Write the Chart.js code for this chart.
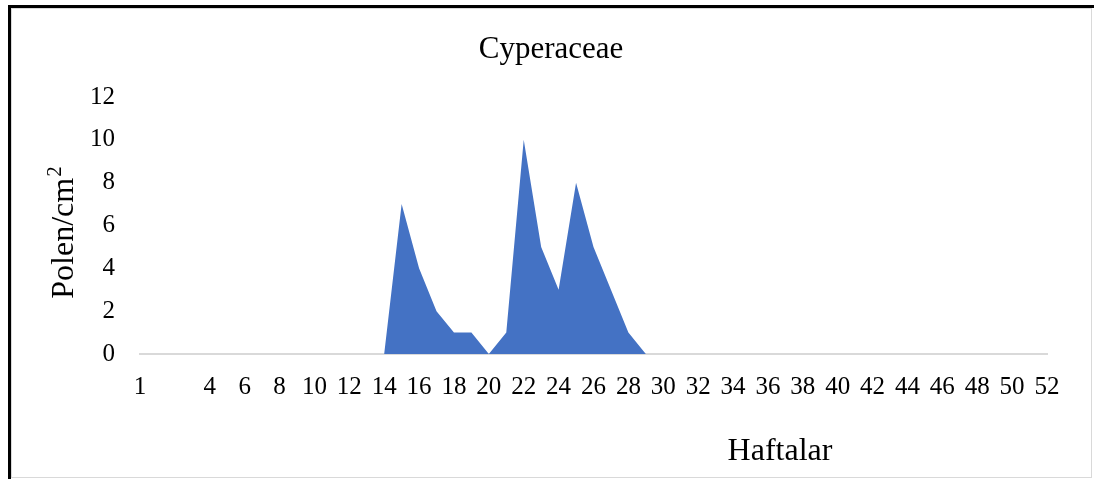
<!DOCTYPE html>
<html>
<head>
<meta charset="utf-8">
<script src="https://cdn.jsdelivr.net/npm/chart.js@4"></script>
<style>
    body { margin: 0; background: #fff; }
    #wrap { position: relative; width: 1094px; height: 479px; overflow: hidden; }
    #edge { position: absolute; left: 8px; top: 5px; right: 0; bottom: 0; border-left: 3px solid #000; border-top: 3px solid #000; }
    #frame { position: absolute; left: 11px; top: 8px; width: 1079px; height: 468px; border: 1px solid #d9d9d9; }
    #chart { position: absolute; left: 0; top: 0; }
</style>
</head>
<body>
<div id="wrap">
    <div id="edge"></div>
    <div id="frame"></div>
    <canvas id="chart" width="1094" height="479"></canvas>
</div>
<script>
const chartTitle = 'Cyperaceae';
const xTitle = 'Haftalar';
const yTitle = 'Polen/cm';
const yTitleSup = '2';

// week labels as printed under the axis (odd ones hidden)
const weekLabels = ['1', '', '', '', '4', '', '6', '', '8', '', '10', '', '12', '', '14', '', '16', '', '18', '', '20',
    '', '22', '', '24', '', '26', '', '28', '', '30', '', '32', '', '34', '', '36', '', '38', '', '40',
    '', '42', '', '44', '', '46', '', '48', '', '50', '', '52'];

const pollenValues = [0, 0, 0, 0, 0, 0, 0, 0, 0, 0, 0, 0, 0, 0, 0, 7, 4, 2, 1, 1, 0,
    1, 10, 5, 3, 8, 5, 3, 1, 0, 0, 0, 0, 0, 0, 0, 0, 0, 0, 0, 0,
    0, 0, 0, 0, 0, 0, 0, 0, 0, 0, 0, 0];

const yTicks = [0, 2, 4, 6, 8, 10, 12];

const serif = "'Liberation Serif', 'Times New Roman', serif";

// titles are placed like in the Excel original, not where Chart.js would put them
const titlesPlugin = {
    id: 'titles',
    afterDraw(chart) {
        const ctx = chart.ctx;
        ctx.save();
        ctx.fillStyle = '#000';
        ctx.textAlign = 'center';
        ctx.textBaseline = 'middle';
        ctx.font = '31px ' + serif;
        ctx.fillText(chartTitle, 551, 50);
        ctx.font = '32px ' + serif;
        ctx.fillText(xTitle, 780, 452);

        // rotated y title with a raised small "2"
        ctx.translate(62, 233);
        ctx.rotate(-Math.PI / 2);
        ctx.textAlign = 'left';
        ctx.textBaseline = 'alphabetic';
        ctx.font = '32px ' + serif;
        const mainW = ctx.measureText(yTitle).width;
        ctx.font = '21px ' + serif;
        const supW = ctx.measureText(yTitleSup).width;
        const startX = -(mainW + supW) / 2;
        ctx.font = '32px ' + serif;
        ctx.fillText(yTitle, startX, 11);
        ctx.font = '21px ' + serif;
        ctx.fillText(yTitleSup, startX + mainW + 1, -1);
        ctx.restore();
    }
};

new Chart(document.getElementById('chart'), {
    type: 'line',
    data: {
        labels: weekLabels,
        datasets: [{
            label: chartTitle,
            data: pollenValues,
            backgroundColor: '#4472c4',
            borderWidth: 0,
            pointRadius: 0,
            tension: 0,
            fill: 'origin'
        }]
    },
    options: {
        responsive: false,
        animation: false,
        layout: { padding: { left: 0, right: 47, top: 97, bottom: 0 } },
        plugins: {
            legend: { display: false },
            tooltip: { enabled: false }
        },
        scales: {
            x: {
                offset: false,
                grid: { display: false, drawTicks: false },
                border: { display: true, color: '#d9d9d9', width: 2 },
                ticks: {
                    autoSkip: false,
                    maxRotation: 0,
                    padding: 18,
                    color: '#000',
                    font: { family: serif, size: 25 }
                },
                afterFit(scale) { scale.height = 125; }
            },
            y: {
                min: 0,
                max: 12,
                grid: { display: false, drawTicks: false },
                border: { display: false },
                afterBuildTicks(scale) { scale.ticks = yTicks.map(v => ({ value: v })); },
                ticks: {
                    padding: 25,
                    color: '#000',
                    font: { family: serif, size: 25 }
                },
                afterFit(scale) { scale.width = 140; }
            }
        }
    },
    plugins: [titlesPlugin]
});
</script>
</body>
</html>
